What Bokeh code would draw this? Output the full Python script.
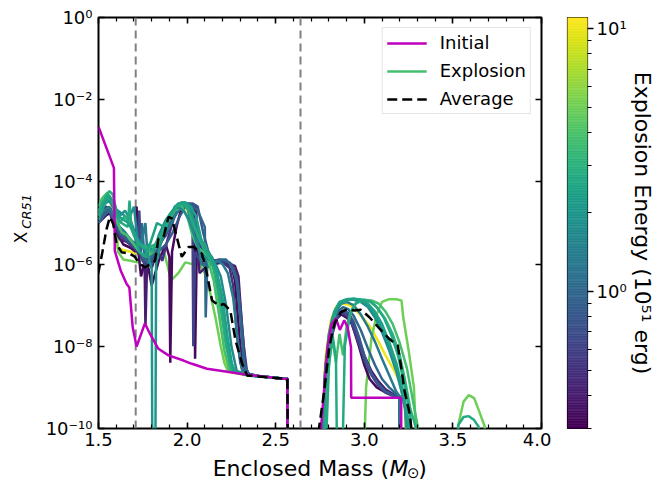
import numpy as np
from bokeh.plotting import figure
from bokeh.models import (ColumnDataSource, FixedTicker, CustomJSTickFormatter,
                          LinearAxis, LogAxis, Span, Legend, LegendItem)
from bokeh.layouts import row, column
from bokeh.palettes import Viridis256
from bokeh.transform import log_cmap
from bokeh.core.properties import value
from bokeh.embed import file_html
from bokeh.resources import INLINE

FONT = "DejaVu Sans"

# ------------------------------------------------------------------ data
x_ticks = [1.5, 2.0, 2.5, 3.0, 3.5, 4.0]
x_minor = [1.6, 1.7, 1.8, 1.9, 2.1, 2.2, 2.3, 2.4, 2.6, 2.7, 2.8, 2.9,
           3.1, 3.2, 3.3, 3.4, 3.6, 3.7, 3.8, 3.9]
y_ticks = [1e-10, 1e-8, 1e-6, 1e-4, 1e-2, 1.0]
cb_ticks = [1.0, 10.0]
cb_minor = [0.3, 0.4, 0.5, 0.6, 0.7, 0.8, 0.9, 2, 3, 4, 5, 6, 7, 8, 9]
energy_low, energy_high = 0.3, 11.0
region_bounds = [1.71, 2.64]

# (enclosed mass [Msun], X_CR51)
initial_profile = [(1.500, 2.2e-3), (1.587, 2.2e-4), (1.592, 2.1e-6), (1.625, 7e-7),
    (1.659, 3.3e-7), (1.674, 2.7e-7), (1.693, 2.9e-8), (1.715, 9.9e-9), (1.762, 3.6e-8),
    (1.791, 2.0e-8), (1.838, 8.7e-9), (1.895, 6.0e-9), (1.980, 4.5e-9), (2.027, 3.75e-9),
    (2.112, 2.84e-9), (2.179, 2.58e-9), (2.329, 2.06e-9), (2.537, 1.62e-9), (2.566, 1.62e-9),
    (2.567, 1e-12), (2.750, 1e-12), (2.757, 1.2e-10), (2.793, 9.5e-9), (2.815, 3.5e-8),
    (2.840, 4.8e-8), (2.862, 2.5e-8), (2.887, 4.3e-8), (2.906, 2.9e-8), (2.925, 9.5e-9),
    (2.926, 5.6e-10), (3.208, 5.6e-10), (3.209, 1e-12)]

average_profile = [(1.498, 5.8e-7), (1.517, 1.5e-6), (1.545, 7e-6), (1.564, 1.4e-5),
    (1.583, 9.5e-6), (1.602, 3.1e-6), (1.630, 1.95e-6), (1.677, 1.8e-6), (1.706, 1.5e-6),
    (1.725, 1.1e-6), (1.762, 8.3e-7), (1.791, 1.0e-6), (1.819, 1.2e-6), (1.838, 4.1e-6),
    (1.867, 4.5e-6), (1.895, 1.4e-5), (1.914, 1.3e-5), (1.942, 4.5e-6), (1.970, 1.5e-6),
    (2.008, 2.6e-6), (2.037, 2.6e-6), (2.084, 1.8e-6), (2.112, 5.8e-7), (2.141, 1.3e-7),
    (2.179, 9.8e-8), (2.207, 1.07e-7), (2.244, 7.4e-8), (2.273, 1.4e-8), (2.311, 3.7e-9),
    (2.339, 1.95e-9), (2.40, 1.85e-9), (2.50, 1.7e-9), (2.566, 1.6e-9), (2.57, 1e-12),
    (2.74, 1e-12), (2.745, 1.07e-10), (2.774, 8.3e-10), (2.802, 9.5e-9), (2.831, 3.5e-8),
    (2.868, 6.8e-8), (2.906, 8.1e-8), (2.944, 7.4e-8), (2.981, 7.7e-8), (3.029, 5.1e-8),
    (3.086, 2.7e-8), (3.142, 1.5e-8), (3.189, 1.05e-8), (3.208, 3.1e-9), (3.227, 8.3e-10),
    (3.256, 2.3e-10), (3.265, 1.07e-10), (3.27, 1e-12)]

run_e033 = [(1.50, 1.0e-5), (1.54, 1.5e-5), (1.57, 1.8e-5), (1.60, 6e-6), (1.64, 3e-6), (1.68, 2.5e-6),
    (1.71, 2e-6), (1.715, 2.5e-5), (1.725, 2e-6), (1.74, 5e-7), (1.77, 1.5e-6), (1.80, 3e-7),
    (1.84, 1.2e-6), (1.88, 3e-6), (1.90, 1.5e-6), (1.905, 4e-9), (1.915, 2e-6), (1.94, 8e-6),
    (1.97, 2.5e-5), (2.00, 2.8e-5), (2.04, 2.5e-5), (2.045, 5e-9), (2.055, 3e-6), (2.08, 1.5e-6),
    (2.11, 1.2e-6), (2.14, 1.0e-6), (2.17, 1.1e-6), (2.21, 1.1e-6), (2.25, 9e-7), (2.27, 4e-7),
    (2.30, 1e-8), (2.33, 2.2e-9), (2.40, 1.9e-9), (2.50, 1.7e-9), (2.566, 1.6e-9), (2.57, 1e-12),
    (2.75, 1e-12), (2.78, 2e-9), (2.81, 1.5e-8), (2.84, 4.5e-8), (2.87, 6e-8), (2.90, 5e-8),
    (2.93, 3.5e-8), (2.97, 1e-8), (3.00, 3.5e-9), (3.03, 1.6e-9), (3.07, 1e-9), (3.12, 7.5e-10),
    (3.16, 6.5e-10), (3.20, 5.8e-10), (3.205, 1e-12)]

run_e04 = [(1.50, 1.5e-5), (1.53, 2.2e-5), (1.56, 2e-5), (1.59, 8e-6), (1.62, 4e-6), (1.66, 3.5e-6),
    (1.70, 2.5e-6), (1.74, 1.5e-6), (1.76, 1.2e-6), (1.765, 3e-8), (1.775, 1.5e-6), (1.80, 8e-7),
    (1.83, 2e-6), (1.87, 5e-6), (1.92, 1.5e-5), (1.95, 2.5e-5), (1.98, 2.8e-5), (2.01, 2.2e-5),
    (2.03, 2.8e-5), (2.05, 2.6e-5), (2.07, 6e-7), (2.10, 8e-7), (2.13, 1.2e-6), (2.16, 1e-6),
    (2.20, 1.1e-6), (2.24, 1e-6), (2.27, 9e-7), (2.29, 5e-7), (2.31, 3e-8), (2.33, 3e-9),
    (2.35, 2.0e-9), (2.45, 1.8e-9), (2.566, 1.6e-9), (2.57, 1e-12),
    (2.75, 1e-12), (2.78, 3e-9), (2.81, 2e-8), (2.84, 5.5e-8), (2.87, 7e-8), (2.90, 6.5e-8),
    (2.93, 4.5e-8), (2.96, 2e-8), (3.00, 6e-9), (3.04, 2.5e-9), (3.08, 1.4e-9), (3.12, 9e-10),
    (3.16, 7e-10), (3.20, 6e-10), (3.205, 1e-12)]

run_e05 = [(1.50, 1.8e-5), (1.54, 2.5e-5), (1.57, 2.2e-5), (1.60, 1e-5), (1.64, 5e-6), (1.68, 4e-6),
    (1.72, 2e-6), (1.75, 1.5e-6), (1.79, 1e-6), (1.83, 2.5e-6), (1.86, 1.2e-6), (1.89, 4e-6),
    (1.93, 1.5e-5), (1.97, 2.6e-5), (2.00, 2.5e-5), (2.04, 6e-6), (2.08, 2.5e-6), (2.12, 1.5e-6),
    (2.16, 1.2e-6), (2.20, 1.1e-6), (2.24, 8e-7), (2.26, 3e-7), (2.28, 2e-8), (2.30, 4e-9),
    (2.32, 2.1e-9), (2.40, 1.9e-9), (2.566, 1.6e-9), (2.57, 1e-12),
    (2.75, 1e-12), (2.78, 3e-9), (2.81, 2e-8), (2.84, 5e-8), (2.87, 6.5e-8), (2.90, 5.5e-8),
    (2.93, 3.5e-8), (2.96, 1.5e-8), (3.00, 5e-9), (3.04, 2.2e-9), (3.08, 1.2e-9), (3.12, 8e-10),
    (3.16, 6.5e-10), (3.20, 5.8e-10), (3.205, 1e-12)]

run_e062 = [(1.50, 1e-5), (1.53, 1.6e-5), (1.56, 2e-5), (1.59, 1e-5), (1.62, 5e-6), (1.66, 3.5e-6),
    (1.70, 2.5e-6), (1.72, 2e-6), (1.73, 2e-5), (1.74, 1.5e-6), (1.77, 8e-7), (1.80, 1.5e-6),
    (1.84, 3e-6), (1.88, 5e-6), (1.92, 1.2e-5), (1.96, 2.8e-5), (2.00, 3e-5), (2.03, 2.5e-5),
    (2.035, 1e-8), (2.045, 2e-6), (2.06, 1.5e-6), (2.09, 1e-6), (2.13, 1.1e-6), (2.17, 1.2e-6),
    (2.21, 1.2e-6), (2.25, 1e-6), (2.28, 5e-7), (2.30, 1e-7), (2.32, 1e-8), (2.34, 2.1e-9),
    (2.40, 1.9e-9), (2.566, 1.6e-9), (2.57, 1e-12),
    (2.76, 1e-12), (2.79, 3e-9), (2.82, 2e-8), (2.85, 5.5e-8), (2.88, 7e-8), (2.91, 5.5e-8),
    (2.94, 3e-8), (2.97, 1.2e-8), (3.00, 4.5e-9), (3.04, 2e-9), (3.08, 1.1e-9), (3.12, 7.5e-10),
    (3.16, 6.2e-10), (3.20, 5.6e-10), (3.205, 1e-12)]

run_e08 = [(1.50, 1.2e-5), (1.53, 1.8e-5), (1.56, 2.2e-5), (1.59, 1.2e-5), (1.62, 6e-6), (1.66, 4e-6),
    (1.70, 3e-6), (1.73, 2e-6), (1.76, 1.2e-6), (1.80, 1e-6), (1.84, 2e-6), (1.88, 3e-6),
    (1.92, 6e-6), (1.96, 1.5e-5), (2.00, 3e-5), (2.03, 3e-5), (2.06, 2.5e-5), (2.09, 6e-6),
    (2.12, 2e-6), (2.15, 1.2e-6), (2.18, 1.3e-6), (2.21, 1.2e-6), (2.24, 1.1e-6), (2.27, 6e-7),
    (2.29, 2e-7), (2.31, 2e-8), (2.33, 2.2e-9), (2.40, 1.9e-9), (2.566, 1.6e-9), (2.57, 1e-12),
    (2.76, 1e-12), (2.79, 4e-9), (2.82, 2.5e-8), (2.85, 6e-8), (2.88, 7.5e-8), (2.91, 6.5e-8),
    (2.94, 4e-8), (2.97, 1.7e-8), (3.00, 6e-9), (3.04, 2.2e-9), (3.08, 1.2e-9), (3.12, 8e-10),
    (3.16, 6.5e-10), (3.20, 5.8e-10), (3.205, 1e-12)]

run_e10b = [(1.50, 1e-5), (1.53, 1.5e-5), (1.56, 2e-5), (1.59, 1.2e-5), (1.62, 7e-6), (1.66, 5e-6),
    (1.70, 3e-6), (1.74, 2e-6), (1.745, 1e-5), (1.76, 1.5e-6), (1.78, 1e-6), (1.82, 2e-6),
    (1.86, 4e-6), (1.90, 8e-6), (1.94, 2e-5), (1.98, 3e-5), (2.02, 2.8e-5), (2.06, 2e-5),
    (2.10, 8e-6), (2.105, 5e-8), (2.115, 1.5e-6), (2.13, 1.2e-6), (2.16, 1.1e-6), (2.19, 1.3e-6),
    (2.22, 1.3e-6), (2.25, 9e-7), (2.28, 4e-7), (2.30, 5e-8), (2.32, 4e-9), (2.35, 2.0e-9),
    (2.45, 1.8e-9), (2.566, 1.6e-9), (2.57, 1e-12),
    (2.76, 1e-12), (2.79, 5e-9), (2.82, 3e-8), (2.85, 7e-8), (2.88, 9e-8), (2.91, 8e-8),
    (2.94, 5.5e-8), (2.98, 2.5e-8), (3.02, 9e-9), (3.06, 3.5e-9), (3.10, 1.6e-9), (3.14, 1e-9),
    (3.18, 7e-10), (3.20, 6e-10), (3.205, 1e-12)]

run_e13 = [(1.50, 1.5e-5), (1.53, 2e-5), (1.56, 2.5e-5), (1.59, 1.5e-5), (1.62, 8e-6), (1.65, 6e-6),
    (1.68, 4e-6), (1.71, 3e-6), (1.74, 2.5e-6), (1.76, 8e-6), (1.765, 1e-5), (1.775, 2e-6),
    (1.79, 1.5e-6), (1.83, 3e-6), (1.87, 5e-6), (1.91, 1e-5), (1.95, 2e-5), (1.99, 2.6e-5),
    (2.02, 2.2e-5), (2.05, 8e-6), (2.08, 1e-6), (2.11, 8e-7), (2.14, 1e-6), (2.17, 1.2e-6),
    (2.20, 1e-6), (2.23, 6e-7), (2.26, 1.5e-7), (2.29, 1e-8), (2.31, 2.6e-9), (2.35, 2.0e-9),
    (2.45, 1.8e-9), (2.566, 1.6e-9), (2.57, 1e-12),
    (2.755, 1e-12), (2.78, 3e-9), (2.81, 2.5e-8), (2.84, 7e-8), (2.87, 1.1e-7), (2.90, 1.2e-7),
    (2.94, 1e-7), (2.98, 6e-8), (3.02, 3e-8), (3.06, 1.3e-8), (3.10, 5e-9), (3.14, 2e-9),
    (3.18, 8e-10), (3.20, 6e-10), (3.205, 1e-12)]

run_e17 = [(1.50, 2e-5), (1.53, 2.8e-5), (1.56, 3.5e-5), (1.58, 2.5e-5), (1.61, 2e-5), (1.64, 1.6e-5),
    (1.67, 1.2e-5), (1.70, 2.5e-5), (1.72, 4e-6), (1.75, 2.5e-6), (1.78, 3e-6), (1.81, 2e-6),
    (1.84, 5e-6), (1.88, 1.2e-5), (1.92, 2e-5), (1.95, 2.5e-5), (1.98, 2e-5), (2.01, 1.2e-5),
    (2.04, 5e-6), (2.07, 2e-6), (2.10, 1.5e-6), (2.13, 1.2e-6), (2.16, 1e-6), (2.19, 5e-7),
    (2.22, 1e-7), (2.25, 1e-8), (2.28, 2.5e-9), (2.35, 1.95e-9), (2.45, 1.8e-9), (2.566, 1.6e-9),
    (2.57, 1e-12),
    (2.755, 1e-12), (2.78, 2.5e-9), (2.80, 1.5e-8), (2.83, 6e-8), (2.86, 1.1e-7), (2.90, 1.35e-7),
    (2.94, 1.35e-7), (2.98, 1.2e-7), (3.02, 9e-8), (3.06, 5e-8), (3.10, 2.2e-8), (3.14, 8e-9),
    (3.18, 2.5e-9), (3.21, 8e-10), (3.24, 2e-10), (3.26, 1e-12)]

run_e20 = [(1.50, 1.8e-5), (1.53, 3e-5), (1.56, 4.5e-5), (1.59, 2.5e-5), (1.62, 1.5e-5), (1.65, 2e-5),
    (1.68, 1.2e-5), (1.71, 5e-6), (1.74, 3e-6), (1.77, 2e-6), (1.80, 8e-7), (1.805, 1e-12),
    (1.82, 1e-12), (1.825, 1e-6), (1.85, 3e-6), (1.89, 1e-5), (1.93, 2.5e-5), (1.97, 3.2e-5),
    (2.00, 3e-5), (2.03, 1.5e-5), (2.06, 6e-6), (2.09, 3e-6), (2.12, 2e-6), (2.15, 1e-6),
    (2.18, 3e-7), (2.21, 4e-8), (2.24, 5e-9), (2.27, 2.4e-9), (2.35, 1.95e-9), (2.45, 1.8e-9),
    (2.566, 1.6e-9), (2.57, 1e-12),
    (2.755, 1e-12), (2.78, 3e-9), (2.80, 2e-8), (2.82, 5e-8), (2.85, 9e-8), (2.88, 1.25e-7),
    (2.92, 1.4e-7), (2.96, 1.35e-7), (3.00, 1.15e-7), (3.04, 8e-8), (3.08, 4e-8), (3.12, 1.8e-8),
    (3.16, 6e-9), (3.20, 1.5e-9), (3.23, 3e-10), (3.26, 1e-12)]

run_e24 = [(1.50, 1.2e-5), (1.53, 2.5e-5), (1.56, 4.5e-5), (1.59, 3e-5), (1.61, 1.5e-5), (1.64, 1.2e-5),
    (1.67, 1e-5), (1.70, 6e-6), (1.73, 2e-6), (1.76, 1.5e-6), (1.79, 3e-6), (1.83, 1e-5),
    (1.87, 8e-6), (1.91, 1.8e-5), (1.95, 3e-5), (1.99, 3.2e-5), (2.02, 2.5e-5), (2.05, 1.5e-5),
    (2.08, 4e-6), (2.11, 2e-6), (2.14, 1.5e-6), (2.17, 6e-7), (2.20, 1.5e-7), (2.23, 1.5e-8),
    (2.26, 2.5e-9), (2.35, 1.95e-9), (2.45, 1.8e-9), (2.566, 1.6e-9), (2.57, 1e-12),
    (2.76, 1e-12), (2.78, 2e-9), (2.80, 1.8e-8), (2.83, 7e-8), (2.86, 1.2e-7), (2.90, 1.4e-7),
    (2.94, 1.45e-7), (2.98, 1.35e-7), (3.02, 1.1e-7), (3.06, 7e-8), (3.10, 3.5e-8), (3.14, 1.3e-8),
    (3.18, 4e-9), (3.22, 8e-10), (3.25, 1.5e-10), (3.27, 1e-12)]

run_e27 = [(1.50, 1.5e-5), (1.52, 3e-5), (1.55, 5e-5), (1.58, 3e-5), (1.60, 1.5e-5), (1.63, 1e-5),
    (1.665, 8e-6), (1.675, 3.5e-5), (1.685, 8e-6), (1.70, 5e-6), (1.73, 3e-6), (1.76, 2.5e-6),
    (1.80, 2e-6), (1.84, 4e-6), (1.88, 8e-6), (1.92, 2e-5), (1.96, 3e-5), (2.00, 2.5e-5),
    (2.03, 1e-5), (2.06, 5e-6), (2.09, 2.5e-6), (2.12, 1.5e-6), (2.15, 8e-7), (2.18, 2e-7),
    (2.21, 3e-8), (2.24, 5e-9), (2.27, 2.4e-9), (2.35, 1.95e-9), (2.45, 1.8e-9), (2.566, 1.6e-9),
    (2.57, 1e-12),
    (2.77, 1e-12), (2.80, 3e-9), (2.82, 2e-8), (2.84, 5e-9), (2.85, 1e-12), (2.87, 1e-12),
    (2.89, 1e-8), (2.92, 6e-8), (2.95, 1.1e-7), (2.99, 1.3e-7), (3.03, 1.25e-7), (3.07, 9e-8),
    (3.11, 5e-8), (3.15, 2e-8), (3.19, 6e-9), (3.23, 1e-9), (3.26, 2e-10), (3.28, 1e-12),
    (3.51, 1e-12), (3.53, 1.2e-10), (3.56, 1.9e-10), (3.59, 2.0e-10), (3.62, 1.6e-10),
    (3.645, 1.1e-10), (3.66, 1e-12)]

run_e30 = [(1.50, 2e-5), (1.53, 3.5e-5), (1.56, 6e-5), (1.58, 5e-5), (1.60, 2e-5), (1.62, 1e-5),
    (1.65, 1.5e-5), (1.68, 8e-6), (1.71, 4e-6), (1.74, 3e-6), (1.78, 2.5e-6), (1.82, 3e-6),
    (1.86, 6e-6), (1.90, 1.6e-5), (1.94, 2.5e-5), (1.98, 3e-5), (2.01, 2e-5), (2.04, 8e-6),
    (2.07, 4e-6), (2.10, 3e-6), (2.13, 1.5e-6), (2.16, 5e-7), (2.19, 8e-8), (2.22, 1e-8),
    (2.25, 2.5e-9), (2.35, 1.95e-9), (2.45, 1.8e-9), (2.566, 1.6e-9), (2.57, 1e-12),
    (2.76, 1e-12), (2.78, 1e-9), (2.80, 1e-8), (2.82, 4e-8), (2.85, 9e-8), (2.88, 1.2e-7),
    (2.92, 1.35e-7), (2.96, 1.4e-7), (3.00, 1.35e-7), (3.04, 1.2e-7), (3.08, 8e-8), (3.12, 4.5e-8),
    (3.16, 2e-8), (3.20, 6e-9), (3.23, 1.5e-9), (3.26, 3e-10), (3.29, 1.1e-10), (3.31, 1e-12)]

run_e38 = [(1.50, 2.5e-5), (1.52, 4e-5), (1.55, 5.5e-5), (1.57, 4e-5), (1.60, 1.2e-5), (1.63, 6e-6),
    (1.66, 5e-6), (1.70, 3e-6), (1.73, 2e-6), (1.77, 1.5e-6), (1.81, 2e-6), (1.85, 4e-6),
    (1.89, 1e-5), (1.93, 2e-5), (1.97, 2.5e-5), (2.00, 1.5e-5), (2.03, 5e-6), (2.06, 2.5e-6),
    (2.09, 2e-6), (2.12, 1.2e-6), (2.15, 4e-7), (2.18, 6e-8), (2.21, 8e-9), (2.24, 2.5e-9),
    (2.35, 1.95e-9), (2.45, 1.8e-9), (2.566, 1.6e-9), (2.57, 1e-12),
    (2.76, 1e-12), (2.79, 2e-9), (2.82, 1.5e-8), (2.84, 4e-9), (2.86, 2e-8), (2.88, 6e-9),
    (2.90, 3e-8), (2.93, 8e-8), (2.96, 1.2e-7), (3.00, 1.35e-7), (3.04, 1.3e-7), (3.08, 1.1e-7),
    (3.12, 7e-8), (3.16, 3.5e-8), (3.20, 1.2e-8), (3.24, 3e-9), (3.27, 6e-10), (3.30, 1.2e-10),
    (3.32, 1e-12)]

run_e50 = [(1.50, 2e-5), (1.53, 3.5e-5), (1.56, 4.5e-5), (1.59, 2e-5), (1.61, 2e-6), (1.64, 1.3e-6),
    (1.68, 1.2e-6), (1.72, 1.1e-6), (1.75, 1.3e-6), (1.79, 2e-6), (1.83, 3e-6), (1.87, 2e-6),
    (1.91, 4e-7), (1.95, 6e-7), (1.99, 1.1e-6), (2.03, 1.0e-6), (2.07, 1.0e-6), (2.10, 6e-7),
    (2.13, 2e-7), (2.16, 5e-8), (2.19, 1e-8), (2.21, 4e-9), (2.23, 2.5e-9), (2.26, 2.3e-9),
    (2.35, 1.95e-9), (2.45, 1.8e-9), (2.566, 1.6e-9), (2.57, 1e-12),
    (2.99, 1e-12), (3.01, 1e-9), (3.04, 1.5e-8), (3.07, 6e-8), (3.10, 1.2e-7), (3.14, 1.4e-7),
    (3.18, 1.4e-7), (3.21, 1.3e-7), (3.22, 5e-8), (3.25, 8e-9), (3.28, 1e-9), (3.31, 1e-12),
    (3.51, 1e-12), (3.53, 1.2e-10), (3.56, 4.5e-10), (3.59, 6.5e-10), (3.62, 5.5e-10),
    (3.65, 2.5e-10), (3.68, 1.1e-10), (3.69, 1e-12)]

run_e100 = [(1.50, 1.5e-5), (1.53, 3e-5), (1.56, 4e-5), (1.59, 1.5e-5), (1.61, 2.5e-6), (1.64, 2.2e-6),
    (1.68, 2e-6), (1.72, 1.8e-6), (1.76, 1.5e-6), (1.80, 1.6e-6), (1.84, 2.5e-6), (1.88, 6e-6),
    (1.92, 1.5e-5), (1.96, 2.5e-5), (2.00, 2.2e-5), (2.04, 6e-6), (2.08, 2.5e-6), (2.12, 1.2e-6),
    (2.16, 3e-7), (2.19, 3e-8), (2.22, 4e-9), (2.25, 2.3e-9), (2.35, 1.95e-9), (2.45, 1.8e-9),
    (2.566, 1.6e-9), (2.57, 1e-12),
    (2.75, 1e-12), (2.78, 5e-9), (2.81, 4e-8), (2.84, 9e-8), (2.88, 1.1e-7), (2.92, 1e-7),
    (2.96, 7e-8), (3.00, 4.5e-8), (3.04, 2.7e-8), (3.08, 1.3e-8), (3.12, 6e-9), (3.16, 3e-9),
    (3.20, 1.4e-9), (3.23, 3e-10), (3.25, 1e-12)]

# drawing order (first = underneath)
explosion_energy = [10.0, 5.0, 0.33, 0.4, 0.5, 0.62, 0.8, 1.0, 1.3, 3.8, 1.7, 3.0, 2.0, 2.7, 2.4]
explosion_runs = [run_e100, run_e50, run_e033, run_e04, run_e05, run_e062, run_e08, run_e10b,
                  run_e13, run_e38, run_e17, run_e30, run_e20, run_e27, run_e24]
legend_run = 9   # run whose colour stands for "Explosion" in the legend

# ------------------------------------------------------------------ helpers
SUP = ("const s = {'-':'\u207b','0':'\u2070','1':'\u00b9','2':'\u00b2','3':'\u00b3',"
       "'4':'\u2074','5':'\u2075','6':'\u2076','7':'\u2077','8':'\u2078','9':'\u2079'};"
       "const e = Math.round(Math.log10(tick));"
       "return '10' + String(e).split('').map(c => s[c]).join('');")
BLANK = CustomJSTickFormatter(code="return '';")


def style_axis(ax, show_labels, standoff=5):
    ax.axis_label = None
    ax.major_tick_in = 6
    ax.major_tick_out = 0
    ax.minor_tick_in = 4
    ax.minor_tick_out = 0
    ax.major_tick_line_width = 1.6
    ax.minor_tick_line_width = 1.2
    ax.major_tick_line_color = "black"
    ax.minor_tick_line_color = "black"
    ax.axis_line_color = None
    ax.major_label_text_font = FONT
    ax.major_label_text_color = "black"
    ax.major_label_text_font_size = "18px"
    ax.major_label_standoff = standoff if show_labels else 0


def blank_fig(w, h):
    f = figure(width=w, height=h, x_range=(0, w), y_range=(0, h), x_axis_type=None,
               y_axis_type=None, output_backend="svg", toolbar_location=None,
               min_border=0)
    f.outline_line_color = None
    f.grid.visible = False
    return f


# ------------------------------------------------------------------ main figure
p = figure(frame_width=443, frame_height=411, x_range=(1.5, 4.0), y_range=(1e-10, 1.0),
           y_axis_type="log", output_backend="svg", toolbar_location=None,
           min_border_left=55, min_border_right=10, min_border_top=17, min_border_bottom=28)
p.grid.visible = False
p.outline_line_color = "black"
p.outline_line_width = 2
p.background_fill_color = "white"
p.border_fill_color = "white"

xt = FixedTicker(ticks=x_ticks, minor_ticks=x_minor)
yt = FixedTicker(ticks=y_ticks, minor_ticks=[])
xfmt = CustomJSTickFormatter(code="return tick.toFixed(1);")
yfmt = CustomJSTickFormatter(code=SUP)

p.xaxis.ticker = xt
p.xaxis.formatter = xfmt
p.yaxis.ticker = yt
p.yaxis.formatter = yfmt
style_axis(p.xaxis[0], True, 4)
style_axis(p.yaxis[0], True, 6)

top_ax = LinearAxis(ticker=xt, formatter=BLANK)
style_axis(top_ax, False)
p.add_layout(top_ax, "above")
right_ax = LogAxis(ticker=yt, formatter=BLANK)
style_axis(right_ax, False)
p.add_layout(right_ax, "right")

for m in region_bounds:
    p.add_layout(Span(location=m, dimension="height", line_color="#808080",
                      line_width=2, line_dash="8 5", level="underlay"))

src = ColumnDataSource(dict(
    xs=[[pt[0] for pt in run] for run in explosion_runs],
    ys=[[pt[1] for pt in run] for run in explosion_runs],
    energy=explosion_energy))
r_expl = p.multi_line(xs="xs", ys="ys", source=src, line_width=2.5,
                      line_color=log_cmap("energy", Viridis256, energy_low, energy_high))

r_init = p.line([pt[0] for pt in initial_profile], [pt[1] for pt in initial_profile],
                line_color="#bf00bf", line_width=2.5)
r_avg = p.line([pt[0] for pt in average_profile], [pt[1] for pt in average_profile],
               line_color="black", line_width=2.5, line_dash="10 5")

legend = Legend(items=[LegendItem(label="Initial", renderers=[r_init]),
                       LegendItem(label="Explosion", renderers=[r_expl], index=legend_run),
                       LegendItem(label="Average", renderers=[r_avg])],
                location="top_right", margin=10, padding=4, spacing=7,
                glyph_width=40, glyph_height=20, label_height=20, label_standoff=13,
                label_text_font=FONT, label_text_font_size="18px", label_text_color="black",
                border_line_color="#cccccc", border_line_width=1,
                background_fill_color="white", background_fill_alpha=0.8)
p.add_layout(legend)

# ------------------------------------------------------------------ axis-label panels
YW = 42
ylab = blank_fig(YW, 481)
ylab.text(x=[20.5], y=[232], text=["X"], angle=np.pi / 2, text_font=value(FONT),
          text_font_size="17px", text_align="left", text_baseline="alphabetic",
          text_color="black")
ylab.text(x=[26], y=[248], text=["CR51"], angle=np.pi / 2, text_font=value(FONT),
          text_font_size="13px", text_font_style="italic", text_align="left",
          text_baseline="alphabetic", text_color="black")

PW = 55 + 443 + 10
XH = 25
xlab = blank_fig(PW, XH)
xb = 334
xlab.text(x=[xb], y=[13], text=["Enclosed Mass ("], text_font=value(FONT),
          text_font_size="22px", text_align="right", text_baseline="alphabetic",
          text_color="black")
xlab.text(x=[xb + 0.5], y=[13], text=["M"], text_font=value(FONT), text_font_size="22px",
          text_font_style="italic", text_align="left", text_baseline="alphabetic",
          text_color="black")
xlab.text(x=[xb + 20.5], y=[9], text=["\u2299"], text_font=value(FONT), text_font_size="15px",
          text_align="left", text_baseline="alphabetic", text_color="black")
xlab.text(x=[xb + 33.5], y=[13], text=[")"], text_font=value(FONT), text_font_size="22px",
          text_align="left", text_baseline="alphabetic", text_color="black")

# ------------------------------------------------------------------ colorbar
cb = figure(frame_width=20, frame_height=411, x_range=(0, 1), y_range=(energy_low, energy_high),
            y_axis_type="log", y_axis_location="right", output_backend="svg",
            toolbar_location=None, min_border_left=16, min_border_right=5,
            min_border_top=17, min_border_bottom=28)
cb.xaxis.visible = False
cb.grid.visible = False
cb.outline_line_color = "black"
cb.outline_line_width = 1.2
edges = np.logspace(np.log10(energy_low), np.log10(energy_high), len(Viridis256) + 1)
cb.quad(left=0, right=1, bottom=edges[:-1], top=edges[1:],
        fill_color=list(Viridis256), line_color=list(Viridis256), line_width=0.6)
cax = cb.yaxis[0]
cax.ticker = FixedTicker(ticks=cb_ticks, minor_ticks=cb_minor)
cax.formatter = CustomJSTickFormatter(code=SUP)
cax.major_tick_out = 6
cax.major_tick_in = 0
cax.minor_tick_out = 4
cax.minor_tick_in = 0
cax.major_tick_line_width = 1.3
cax.minor_tick_line_width = 1.1
cax.axis_line_color = None
cax.major_label_text_font = FONT
cax.major_label_text_font_size = "18px"
cax.major_label_text_color = "black"
cax.major_label_standoff = 3
cax.axis_label = "Explosion Energy (10\u2075\u00b9 erg)"
cax.axis_label_text_font = FONT
cax.axis_label_text_font_size = "22px"
cax.axis_label_text_font_style = "normal"
cax.axis_label_text_color = "black"
cax.axis_label_standoff = 0

layout = row(ylab, column(p, xlab), cb)
open("out.html", "w", encoding="utf-8").write(file_html(layout, INLINE, title="X_CR51"))
